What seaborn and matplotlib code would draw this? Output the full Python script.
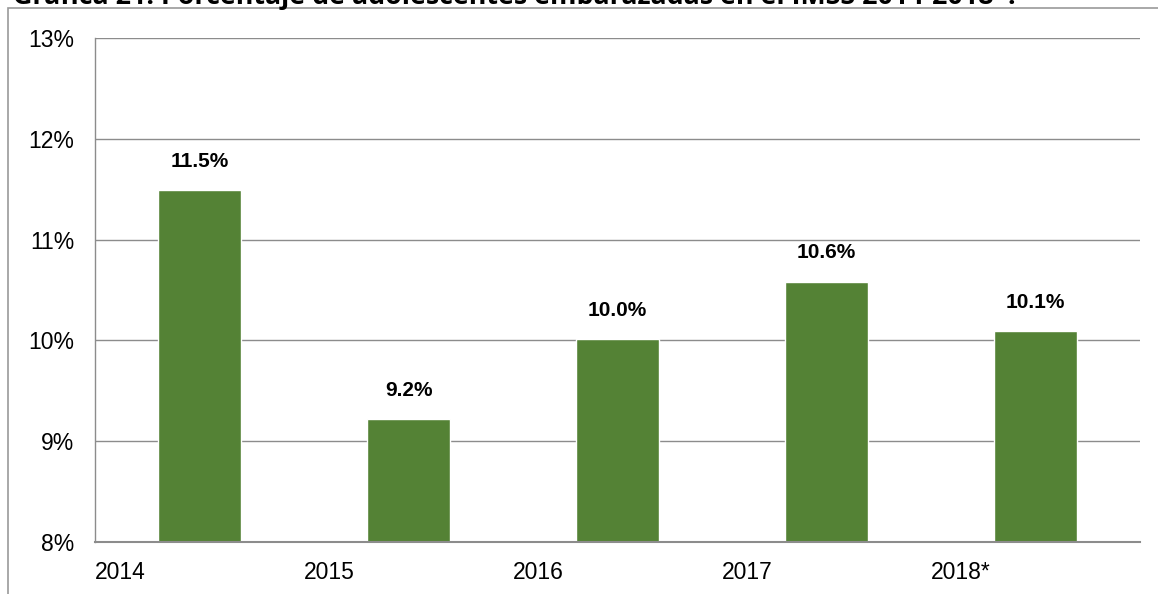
import pandas as pd
import matplotlib.pyplot as plt
import seaborn as sns
from matplotlib.patches import Rectangle

# Data
years = ['2014', '2015', '2016', '2017', '2018*']
porcentaje = [11.49, 9.22, 10.01, 10.58, 10.09]

df = pd.DataFrame({'Año': years, 'Porcentaje': porcentaje})

sns.set_theme(style='white')
plt.rcParams['font.family'] = ['Liberation Sans', 'DejaVu Sans']
plt.rcParams['text.color'] = 'black'

fig = plt.figure(figsize=(11.58, 5.94), dpi=100)
ax = fig.add_axes([95 / 1158, 1 - 542 / 594, (1140 - 95) / 1158, (542 - 38) / 594])

sns.barplot(data=df, x='Año', y='Porcentaje', color='#548235', width=0.4,
            saturation=1, ax=ax)

ax.set_ylim(8, 13)
ax.set_xlim(-0.5, len(years) - 0.5)
ax.set_yticks(range(8, 14))
ax.set_yticklabels([f'{v}%' for v in range(8, 14)], fontsize=16.5)
ax.yaxis.grid(True, color='#8c8c8c', linewidth=1)
ax.set_axisbelow(True)

# category boundaries as ticks, labels left-aligned like the original
bounds = [i - 0.5 for i in range(len(years) + 1)]
ax.set_xticks(bounds)
ax.set_xticklabels(years + [''], fontsize=16.5, ha='left')
ax.tick_params(axis='x', direction='out', length=5, width=1, color='#8c8c8c',
               labelcolor='black', pad=9)
ax.tick_params(axis='y', direction='out', length=5, width=1, color='#8c8c8c',
               labelcolor='black', pad=10)
ax.set_xlabel('')
ax.set_ylabel('')

for side in ['top', 'right']:
    ax.spines[side].set_visible(False)
ax.spines['left'].set_color('#8c8c8c')
ax.spines['left'].set_linewidth(1)
ax.spines['bottom'].set_color('#8c8c8c')
ax.spines['bottom'].set_linewidth(1.5)

# value labels above bars
for i, v in enumerate(porcentaje):
    ax.annotate(f'{v:.1f}%', (i, v), xytext=(0, 14), textcoords='offset points',
                ha='center', va='bottom', fontsize=15, fontweight='bold',
                color='black')

# outer chart frame (only top and left edges visible)
fig.add_artist(Rectangle((8 / 1158, -0.2), 1.2, 1.2 - 8 / 594,
                         transform=fig.transFigure, fill=False,
                         edgecolor='#999999', linewidth=1.2, clip_on=False))

# title, clipped at the top edge in the original
fig.text(13 / 1158, 1 - 4.5 / 594,
         'Gráfica 21. Porcentaje de adolescentes embarazadas en el IMSS 2014-2018*.',
         family=['Open Sans', 'DejaVu Sans'], fontweight='bold', fontsize=19.3,
         ha='left', va='baseline', color='black')

fig.savefig('out.png', dpi=100)
